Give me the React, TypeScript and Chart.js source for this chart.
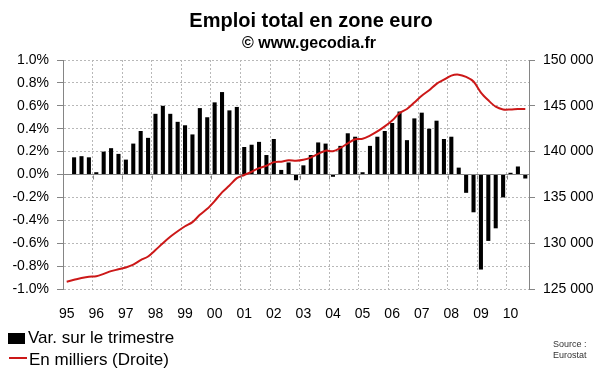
import React, { useEffect, useRef } from 'react';
import { Chart, registerables } from 'chart.js';

Chart.register(...registerables);

// Year tick labels (two digits), one per year; quarters inside each year
const yearLabels = ['95', '96', '97', '98', '99', '00', '01', '02', '03', '04', '05', '06', '07', '08', '09', '10'];
const quarterNames = ['T1', 'T2', 'T3', 'T4'];

// Quarterly change in total employment, % (left axis) — 1995 T1 .. 2010 T3
const quarterlyChange: (number | null)[] = [
  null, 0.15, 0.16, 0.15,
  0.02, 0.20, 0.23, 0.18,
  0.13, 0.27, 0.38, 0.32,
  0.53, 0.60, 0.53, 0.46,
  0.43, 0.35, 0.58, 0.50,
  0.63, 0.72, 0.56, 0.59,
  0.24, 0.26, 0.285, 0.17,
  0.31, 0.04, 0.105, -0.05,
  0.08, 0.17, 0.28, 0.27,
  -0.02, 0.25, 0.36, 0.33,
  0.02, 0.25, 0.33, 0.38,
  0.45, 0.55, 0.30, 0.49,
  0.54, 0.40, 0.47, 0.31,
  0.33, 0.06, -0.16, -0.33,
  -0.83, -0.58, -0.47, -0.20,
  0.015, 0.07, -0.035,
];

// Total employment, thousands (right axis)
const employment: number[] = [
  125800, 126000, 126200, 126350,
  126400, 126650, 126950, 127150,
  127350, 127650, 128150, 128550,
  129250, 130000, 130700, 131300,
  131850, 132300, 133100, 133750,
  134600, 135550, 136300, 137100,
  137450, 137800, 138200, 138450,
  138850, 138900, 139050, 139000,
  139100, 139350, 139750, 140100,
  140050, 140400, 140900, 141350,
  141400, 141750, 142200, 142750,
  143400, 144200, 144650, 145350,
  146100, 146700, 147400, 147850,
  148300, 148400, 148150, 147650,
  146450, 145600, 144900, 144600,
  144600, 144650, 144650,
];

const leftMin = -1;
const leftMax = 1;
const leftStep = 0.2;
const rightMin = 125000;
const rightMax = 150000;
const rightStep = 5000;

const FONT = '"Liberation Sans", Arial, sans-serif';

export default function App() {
  const ref = useRef<HTMLCanvasElement>(null);

  useEffect(() => {
    if (!ref.current) return;
    const categories = yearLabels
      .flatMap((y) => quarterNames.map((q) => `${q} ${y}`))
      .slice(0, quarterlyChange.length);

    const gridColor = '#b8b8b8';
    const axisColor = '#858585';

    const zeroTicks = {
      id: 'zeroTicks',
      afterDatasetsDraw(chart: any) {
        const x = chart.scales.x;
        const y = chart.scales.y;
        const ctx = chart.ctx;
        const y0 = Math.round(y.getPixelForValue(0)) + 0.5;
        ctx.save();
        ctx.strokeStyle = axisColor;
        ctx.lineWidth = 1;
        ctx.beginPath();
        for (let i = 4; i < categories.length; i += 4) {
          const bx = Math.round((x.getPixelForValue(i - 1) + x.getPixelForValue(i)) / 2) + 0.5;
          ctx.moveTo(bx, y0);
          ctx.lineTo(bx, y0 + 4);
        }
        ctx.stroke();
        ctx.restore();
      },
    };

    const chart = new Chart(ref.current, {
      type: 'bar',
      data: {
        labels: categories,
        datasets: [
          {
            type: 'line',
            label: 'En milliers (Droite)',
            data: employment,
            yAxisID: 'y1',
            borderColor: '#cc1818',
            backgroundColor: '#cc1818',
            borderWidth: 2,
            pointRadius: 0,
            tension: 0.3,
            order: 0,
          } as any,
          {
            type: 'bar',
            label: 'Var. sur le trimestre',
            data: quarterlyChange,
            yAxisID: 'y',
            backgroundColor: '#000000',
            borderWidth: 0,
            barPercentage: 0.55,
            categoryPercentage: 1,
            order: 1,
          },
        ],
      },
      options: {
        responsive: false,
        animation: false,
        devicePixelRatio: 1,
        layout: { padding: { top: 60, left: 0, right: 0, bottom: 0 } },
        plugins: {
          legend: { display: false },
          title: { display: false },
          tooltip: { enabled: false },
        },
        scales: {
          x: {
            type: 'category',
            offset: true,
            afterFit: (s: any) => {
              s.height = 83;
            },
            grid: {
              offset: true,
              drawTicks: false,
              lineWidth: 1,
              color: (c: any) =>
                c.index > 0 && c.index < categories.length && c.index % 4 === 0 ? gridColor : 'rgba(0,0,0,0)',
            },
            border: { display: false, dash: [2, 2] },
            ticks: {
              autoSkip: false,
              maxRotation: 0,
              minRotation: 0,
              padding: 17,
              color: '#000',
              font: { family: FONT, size: 14 },
              callback: (_v: any, i: number) => (i % 4 === 0 ? yearLabels[i / 4] : ''),
            },
          },
          y: {
            position: 'left',
            min: leftMin,
            max: leftMax,
            afterFit: (s: any) => {
              s.width = 63;
            },
            grid: {
              color: (c: any) => (c.tick && Math.abs(c.tick.value) < 1e-9 ? axisColor : gridColor),
              tickColor: axisColor,
              tickLength: 6,
              lineWidth: 1,
            },
            border: {
              display: true,
              color: axisColor,
              width: 1,
              dash: (c: any) => (c.tick && Math.abs(c.tick.value) < 1e-9 ? [] : [2, 2]),
            } as any,
            ticks: {
              stepSize: leftStep,
              padding: 8,
              color: '#000',
              font: { family: FONT, size: 14 },
              callback: (v: any) => {
                const n = Math.abs(v) < 1e-9 ? 0 : Number(v);
                return n.toFixed(1) + '%';
              },
            },
          },
          y1: {
            position: 'right',
            min: rightMin,
            max: rightMax,
            afterFit: (s: any) => {
              s.width = 71;
            },
            grid: {
              drawOnChartArea: false,
              tickColor: axisColor,
              tickLength: 6,
            },
            border: { display: true, color: axisColor, width: 1 },
            ticks: {
              stepSize: rightStep,
              padding: 8,
              color: '#000',
              font: { family: FONT, size: 14 },
              callback: (v: any) => {
                const n = Math.round(Number(v));
                const th = Math.floor(n / 1000);
                const rest = String(n % 1000).padStart(3, '0');
                return `${th} ${rest}`;
              },
            },
          },
        },
      },
      plugins: [zeroTicks],
    });
    return () => chart.destroy();
  }, []);

  const base: React.CSSProperties = {
    position: 'absolute',
    lineHeight: 1,
    whiteSpace: 'nowrap',
    color: '#000',
    fontFamily: FONT,
  };

  return (
    <div
      style={{
        position: 'fixed',
        left: 0,
        top: 0,
        width: 600,
        height: 372,
        background: '#fff',
        overflow: 'hidden',
      }}
    >
      <canvas ref={ref} width={600} height={372} style={{ position: 'absolute', left: 0, top: 0, display: 'block' }} />
      <div style={{ ...base, left: 111, width: 400, top: 10, textAlign: 'center', fontSize: 20, fontWeight: 'bold' }}>
        Emploi total en zone euro
      </div>
      <div style={{ ...base, left: 109, width: 400, top: 35, textAlign: 'center', fontSize: 16, fontWeight: 'bold' }}>
        © www.gecodia.fr
      </div>
      <div style={{ position: 'absolute', left: 8, top: 333, width: 17, height: 11, background: '#000' }} />
      <div style={{ ...base, left: 28, top: 328.6, fontSize: 17 }}>Var. sur le trimestre</div>
      <div style={{ position: 'absolute', left: 9, top: 357, width: 18, height: 2, background: '#cc1818' }} />
      <div style={{ ...base, left: 29, top: 351.3, fontSize: 17 }}>En milliers (Droite)</div>
      <div
        style={{
          ...base,
          left: 553,
          top: 339,
          fontSize: 9,
          lineHeight: '11px',
          fontFamily: '"Liberation Sans Narrow", "Liberation Sans", Arial, sans-serif',
          color: '#333',
        }}
      >
        Source :
        <br />
        Eurostat
      </div>
    </div>
  );
}
